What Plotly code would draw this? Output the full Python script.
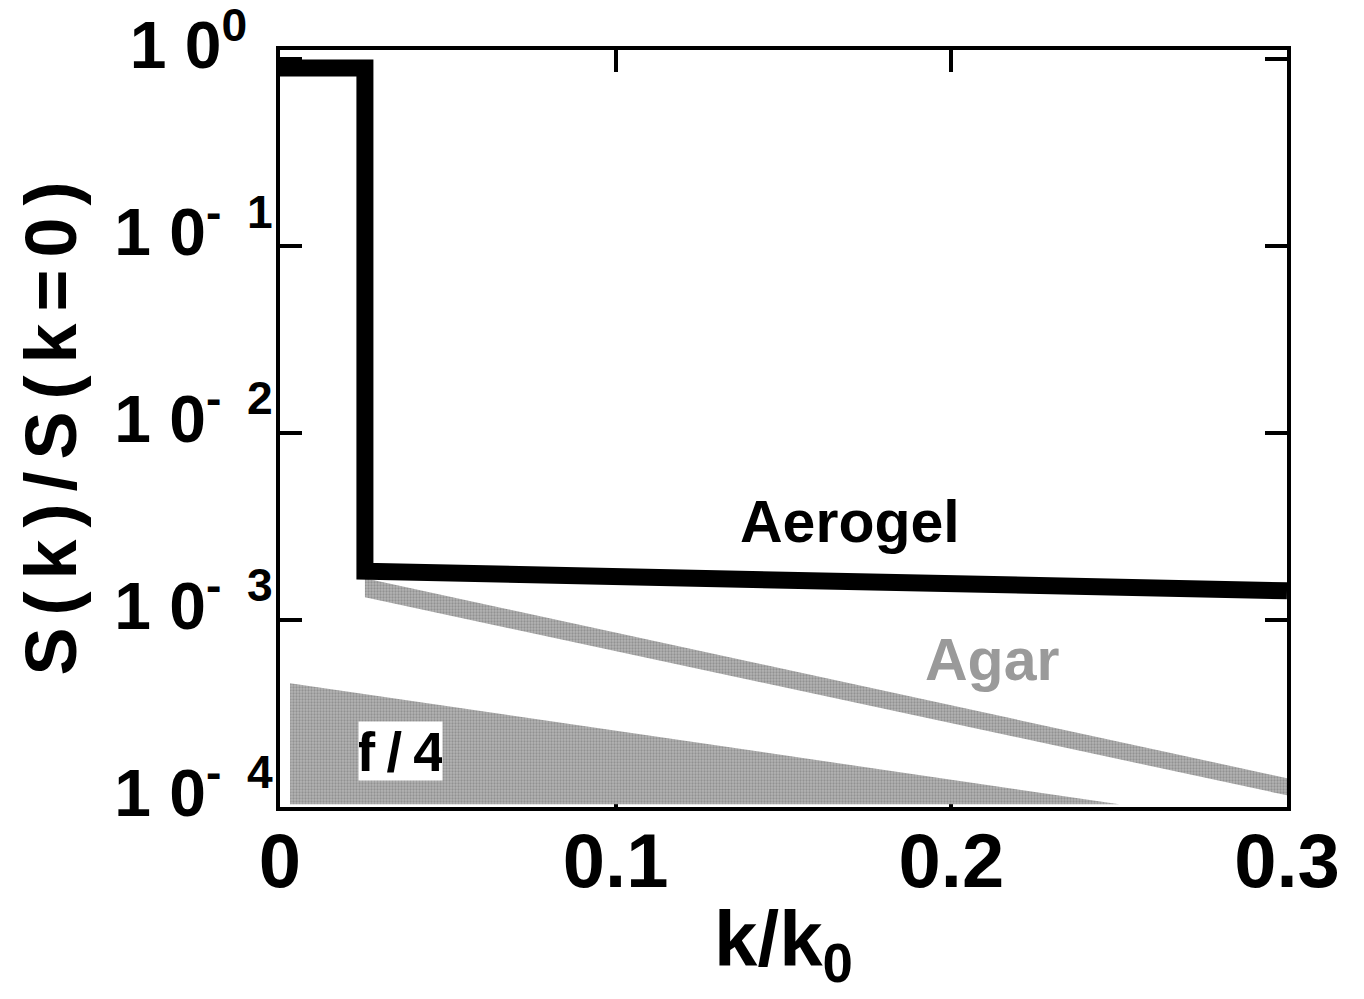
import plotly.graph_objects as go

# Normalised structure factor S(k)/S(k=0) versus k/k0
FONT = "Liberation Sans, Arial, Helvetica, sans-serif"

# Aerogel: step at low k then a slowly decaying plateau
aerogel_k = [0.0, 0.0253, 0.0253, 0.3]
aerogel_s = [0.90, 0.90, 1.82e-3, 1.43e-3]

# Agar: band between an upper and a lower bound
agar_k = [0.0253, 0.3]
agar_upper = [1.67e-3, 1.42e-4]
agar_lower = [1.32e-3, 1.15e-4]

# f/4 wedge
f4_k = [0.003, 0.25, 0.003]
f4_s = [4.58e-4, 1.03e-4, 1.03e-4]

x_ticks = [0, 0.1, 0.2, 0.3]
x_ticktext = ["0", "0.1", "0.2", "0.3"]
y_ticks = [1, 0.1, 0.01, 0.001, 0.0001]
y_ticktext = [
    "1 0<sup>0\u00a0\u00a0</sup>",
    "1 0<sup>-\u00a0\u00a01</sup>",
    "1 0<sup>-\u00a0\u00a02</sup>",
    "1 0<sup>-\u00a0\u00a03</sup>",
    "1 0<sup>-\u00a0\u00a04</sup>",
]

GREY = "#a2a2a2"
# stippled grey used for the shaded regions
STIPPLE = dict(shape=".", fgcolor="#6e6e6e", bgcolor="#b4b4b4", size=3, solidity=0.45)

fig = go.Figure()

# f/4 shaded wedge
fig.add_trace(go.Scatter(
    x=f4_k, y=f4_s, mode="lines", fill="toself",
    fillcolor=GREY, fillpattern=STIPPLE,
    line=dict(width=0), hoverinfo="skip", showlegend=False,
))

# Agar band as a closed polygon
fig.add_trace(go.Scatter(
    x=agar_k + agar_k[::-1],
    y=agar_upper + agar_lower[::-1],
    mode="lines", fill="toself", fillcolor=GREY, fillpattern=STIPPLE,
    line=dict(width=0), hoverinfo="skip", showlegend=False,
))

# Aerogel thick line
fig.add_trace(go.Scatter(
    x=aerogel_k, y=aerogel_s, mode="lines",
    line=dict(color="black", width=17), hoverinfo="skip", showlegend=False,
))

fig.add_annotation(x=0.1698, y=-2.477, text="Aerogel", showarrow=False,
                   font=dict(family=FONT, size=59, color="black", weight="bold"))
fig.add_annotation(x=0.2121, y=-3.216, text="Agar", showarrow=False,
                   font=dict(family=FONT, size=59, color="#9a9a9a", weight="bold"))
fig.add_annotation(x=0.036, y=-3.703, text="f\u2009/\u20094", showarrow=False,
                   bgcolor="white", width=83, height=58, borderpad=0,
                   font=dict(family=FONT, size=56, color="black", weight="bold"))

axis_common = dict(
    showline=True, linecolor="black", linewidth=4, mirror="ticks",
    ticks="inside", ticklen=22, tickwidth=4, tickcolor="black",
    showgrid=False, zeroline=False, layer="below traces",
    ticklabeloverflow="allow",
)

fig.update_xaxes(
    range=[0, 0.3], tickmode="array", tickvals=x_ticks, ticktext=x_ticktext,
    ticklabelstandoff=-15,
    tickfont=dict(family=FONT, size=76, color="black", weight="bold"),
    title=dict(text="k/k<sub>0</sub>", standoff=10,
               font=dict(family=FONT, size=78, color="black", weight="bold")),
    **axis_common,
)
fig.update_yaxes(
    type="log", range=[-4.002, 0.05], tickmode="array", tickvals=y_ticks,
    ticktext=y_ticktext, ticklabelshift=-14, ticklabelstandoff=-10,
    tickfont=dict(family=FONT, size=66, color="black", weight="bold"),
    title=dict(text="\u2006".join("S(k)/S(k=0)"), standoff=15,
               font=dict(family=FONT, size=72, color="black", weight="bold")),
    **axis_common,
)

fig.update_layout(
    width=1364, height=999,
    margin=dict(l=280, r=77, t=50, b=192, autoexpand=False),
    plot_bgcolor="white", paper_bgcolor="white",
)

fig.write_html("out.html")
